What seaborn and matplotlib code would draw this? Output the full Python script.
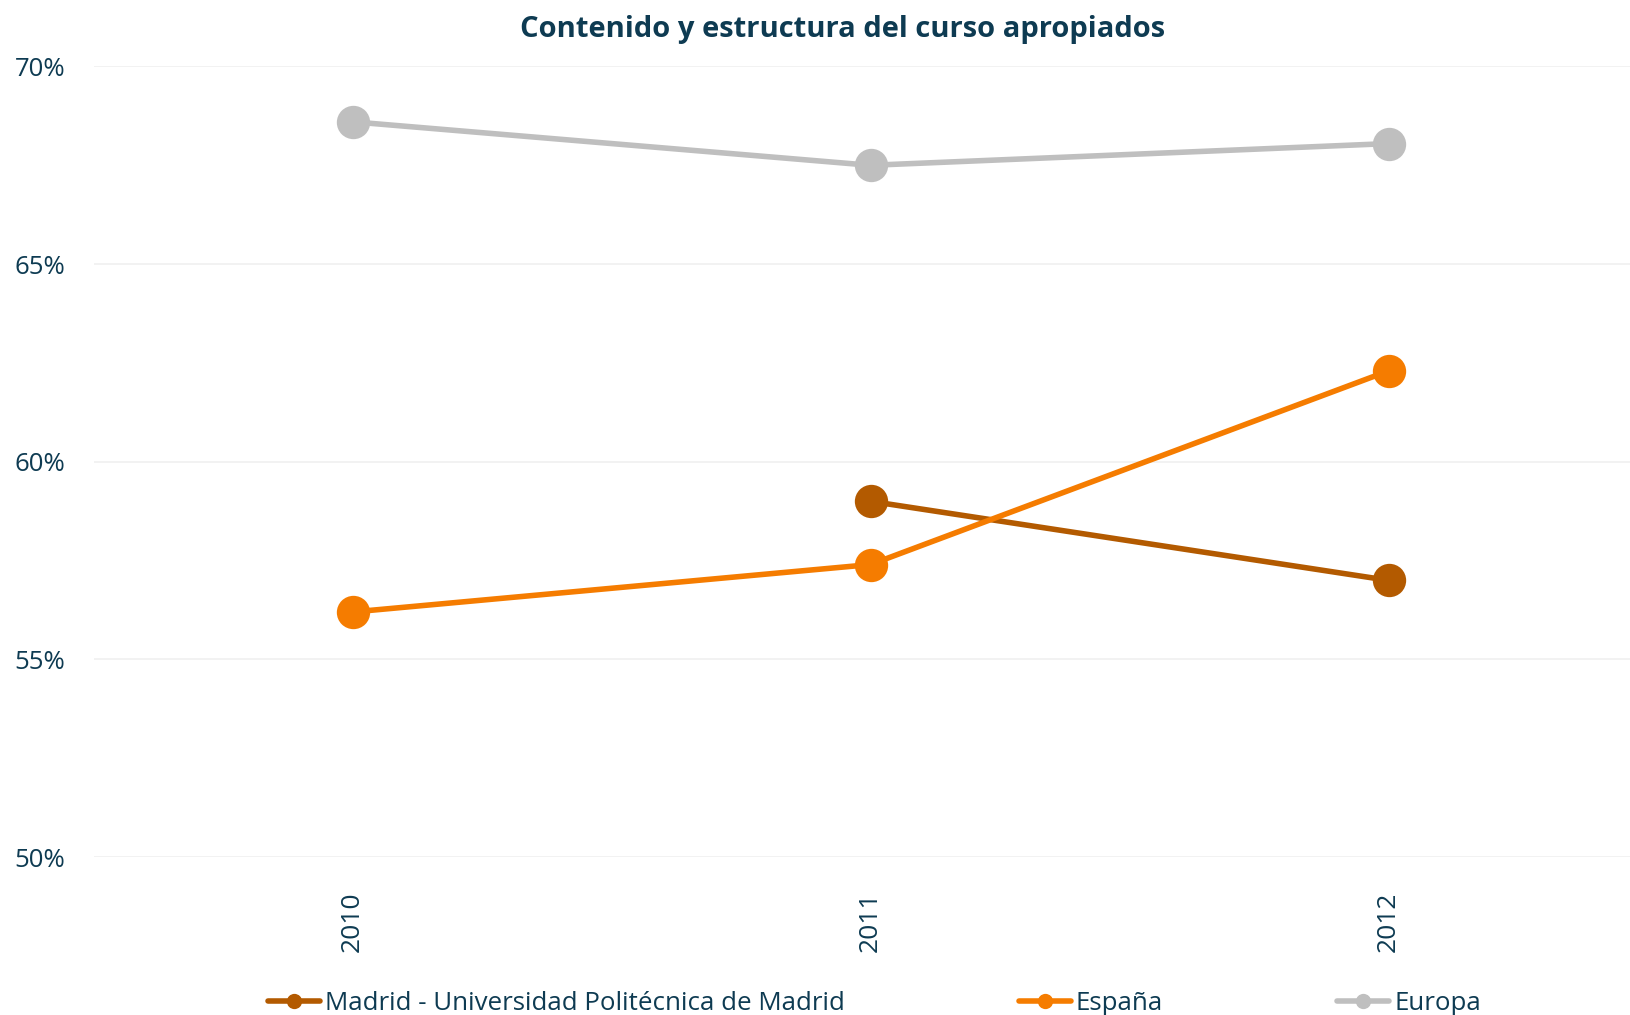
import matplotlib
matplotlib.use("Agg")
import matplotlib.pyplot as plt
import matplotlib.transforms as mtransforms
import seaborn as sns
import pandas as pd
import numpy as np
from matplotlib.ticker import FuncFormatter

years = [2010, 2011, 2012]
series_names = ["Madrid - Universidad Politécnica de Madrid", "España", "Europa"]
madrid = [np.nan, 59.0, 57.0]
espana = [56.2, 57.4, 62.3]
europa = [68.6, 67.5, 68.05]
colors = ["#B35A00", "#F57C00", "#BFBFBF"]
y_ticks = [50, 55, 60, 65, 70]
title = "Contenido y estructura del curso apropiados"

rows = []
for name, vals in zip(series_names, [madrid, espana, europa]):
    for yr, v in zip(years, vals):
        rows.append({"year": yr, "value": v, "serie": name})
df = pd.DataFrame(rows).dropna()

sns.set_theme(style="white")
plt.rcParams["font.family"] = ["Open Sans", "DejaVu Sans"]
text_color = "#0E3B52"

fig = plt.figure(figsize=(16.3, 10.15), dpi=100)
ax = fig.add_axes([0.0574, 0.1556, 0.9426, 0.7789])

sns.lineplot(data=df, x="year", y="value", hue="serie", hue_order=series_names,
             palette=dict(zip(series_names, colors)), marker="o", markersize=24,
             markeredgewidth=0, linewidth=4.0, ax=ax, legend=True)

ax.set_xlim(years[0] - 0.5, years[-1] + 0.466)
ax.set_xticks(years)
ax.set_xticklabels([str(y) for y in years], rotation=90)
ax.set_ylim(50, 70)
ax.set_yticks(y_ticks)
ax.yaxis.set_major_formatter(FuncFormatter(lambda v, p: f"{v:.0f}%"))
ax.grid(axis="y", color="#F0F0F0", linewidth=1.2)
ax.grid(axis="x", visible=False)
for s in ax.spines.values():
    s.set_visible(False)
ax.set_xlabel("")
ax.set_ylabel("")
ax.tick_params(axis="y", labelsize=18.5, labelcolor=text_color, length=0, pad=0)
ax.tick_params(axis="x", labelsize=19, labelcolor=text_color, length=0, pad=25)
fig.canvas.draw()
for lbl in ax.get_yticklabels():
    lbl.set_horizontalalignment("left")
    lbl.set_transform(mtransforms.blended_transform_factory(fig.transFigure, ax.transData))
    lbl.set_x(0.009)

fig.text(0.517, 0.971, title, ha="center", va="center", fontsize=21,
         fontweight="bold", color=text_color)

handles, labels = ax.get_legend_handles_labels()
ax.get_legend().remove()
leg = fig.legend(handles, labels, loc="center", ncol=3, mode="expand",
                 bbox_to_anchor=(0.1645, -0.004, 0.744, 0.03), frameon=False,
                 fontsize=18.6, handlelength=2.0, handletextpad=0.2,
                 borderaxespad=0, borderpad=0)
for t in leg.get_texts():
    t.set_color(text_color)
for h in leg.legend_handles:
    h.set_markersize(11)
    h.set_linewidth(4.0)

fig.savefig("out.png", dpi=100, facecolor="white")
